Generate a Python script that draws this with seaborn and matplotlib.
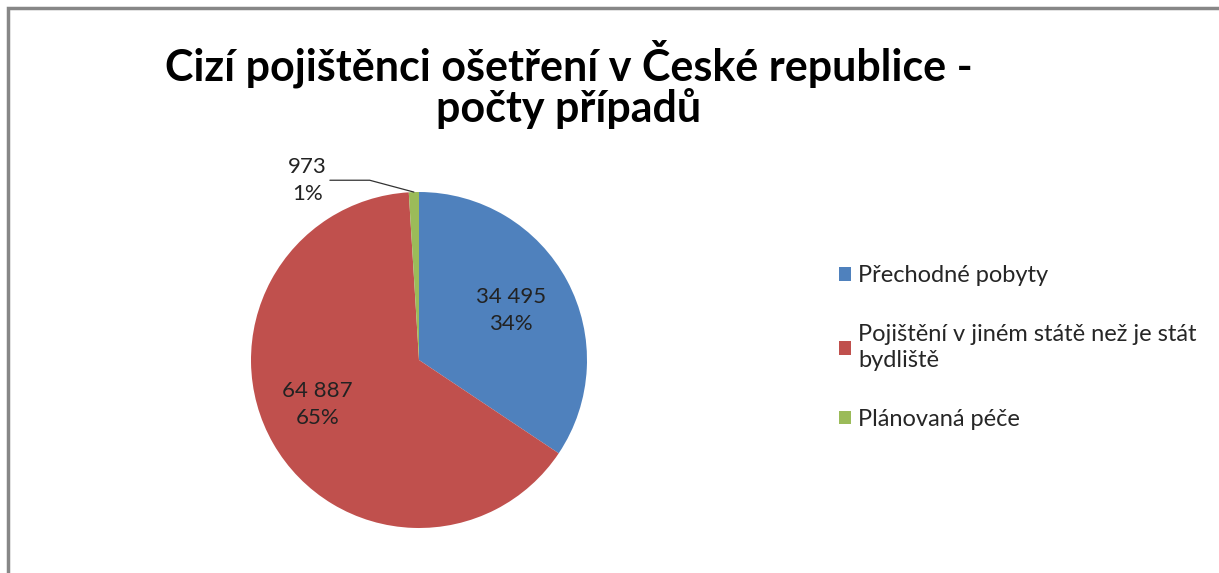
import matplotlib
matplotlib.use("Agg")
import matplotlib.pyplot as plt
import seaborn as sns
import numpy as np
from matplotlib.patches import Rectangle

# data
categories = ["Přechodné pobyty",
              "Pojištění v jiném státě než je stát\nbydliště",
              "Plánovaná péče"]
counts = [34495, 64887, 973]
colors = ["#4F81BD", "#C0504D", "#9BBB59"]
title = "Cizí pojištěnci ošetření v České republice -\npočty případů"

sns.set_theme(style="white")
plt.rcParams['font.family'] = ['Lato', 'DejaVu Sans']

W, H = 1219, 573
fig = plt.figure(figsize=(W / 100, H / 100), dpi=100)
fig.patch.set_facecolor("white")

# pie axes: centre (419, 360) px, radius ~168 px
cx, cy, r = 419, 360, 168
half = 1.25 * r
ax = fig.add_axes([(cx - half) / W, (H - cy - half) / H, 2 * half / W, 2 * half / H])

wedges, _ = ax.pie(counts, colors=colors, startangle=90, counterclock=False,
                   wedgeprops=dict(linewidth=0))
ax.set_xlim(-1.25, 1.25)
ax.set_ylim(-1.25, 1.25)
ax.set_aspect("equal")

total = sum(counts)
for w, v in zip(wedges, counts):
    pct = round(100 * v / total)
    txt = f"{v:,}".replace(",", " ") + f"\n{pct}%"
    mid = np.deg2rad((w.theta1 + w.theta2) / 2)
    if pct < 5:
        ax.annotate(txt, xy=(np.cos(mid), np.sin(mid)), xytext=(-0.55, 1.07),
                    ha="right", va="center", fontsize=16, color="#222222",
                    linespacing=1.45, multialignment="center",
                    arrowprops=dict(arrowstyle="-", color="#333333", lw=0.9,
                                    shrinkA=0, shrinkB=0,
                                    connectionstyle="angle,angleA=0,angleB=165,rad=0"))
    else:
        d = 0.62 if pct < 50 else 0.66
        ang = mid if pct < 50 else mid - np.deg2rad(6)
        ax.text(d * np.cos(ang), d * np.sin(ang), txt, ha="center", va="center",
                fontsize=16, color="#222222", linespacing=1.45)

fig.text(569 / W, 1 - 84 / H, title, ha="center", va="center", fontsize=31,
         fontweight="bold", color="black", linespacing=1.0)

leg = fig.legend(wedges, categories, loc="upper left", bbox_to_anchor=(830 / W, 1 - 256 / H),
                 frameon=False, fontsize=17, handlelength=0.5, handleheight=0.5,
                 handletextpad=0.3, labelspacing=1.6, borderaxespad=0)
for t in leg.get_texts():
    t.set_linespacing(1.3)

# chart frame: only top and left edges visible
fig.patches.append(Rectangle((7.5 / W, -0.2), 1.2, 1 - 8 / H + 0.2, transform=fig.transFigure,
                             fill=False, edgecolor="#878787", linewidth=2.5, figure=fig))

fig.savefig("out.png", dpi=100)
